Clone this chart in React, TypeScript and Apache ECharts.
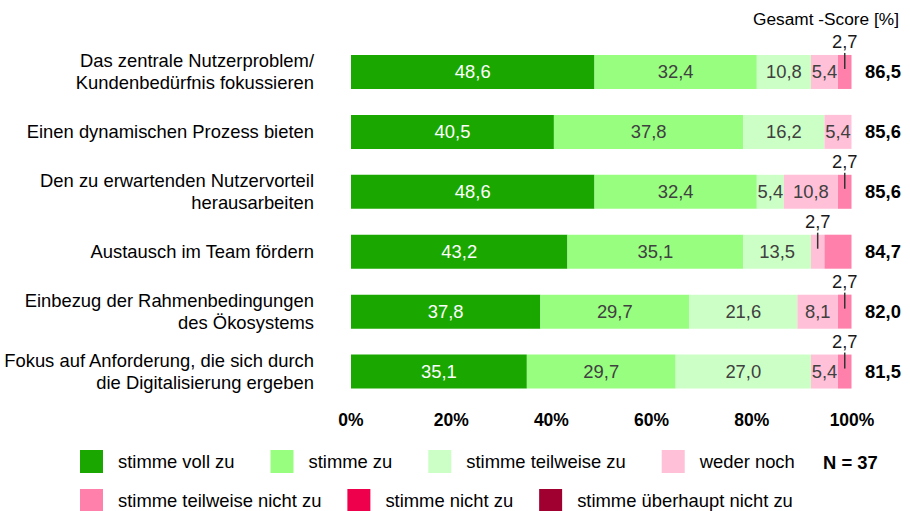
import React, { useEffect, useRef } from "react";
import * as echarts from "echarts";

const categories = [
  "Das zentrale Nutzerproblem/\nKundenbedürfnis fokussieren",
  "Einen dynamischen Prozess bieten",
  "Den zu erwartenden Nutzervorteil\nherausarbeiten",
  "Austausch im Team fördern",
  "Einbezug der Rahmenbedingungen\ndes Ökosystems",
  "Fokus auf Anforderung, die sich durch\ndie Digitalisierung ergeben",
];

const seriesNames = [
  "stimme voll zu",
  "stimme zu",
  "stimme teilweise zu",
  "weder noch",
  "stimme teilweise nicht zu",
  "stimme nicht zu",
  "stimme überhaupt nicht zu",
];

const vollZu = [48.6, 40.5, 48.6, 43.2, 37.8, 35.1];
const zu = [32.4, 37.8, 32.4, 35.1, 29.7, 29.7];
const teilweiseZu = [10.8, 16.2, 5.4, 13.5, 21.6, 27.0];
const wederNoch = [5.4, 5.4, 10.8, 2.7, 8.1, 5.4];
const teilweiseNicht = [2.7, 0, 2.7, 5.4, 2.7, 2.7];
const nichtZu = [0, 0, 0, 0, 0, 0];
const ueberhauptNicht = [0, 0, 0, 0, 0, 0];

const scores = [86.5, 85.6, 85.6, 84.7, 82.0, 81.5];
const xTicks = [0, 20, 40, 60, 80, 100];
const sampleSize = "N = 37";
const scoreTitle = "Gesamt -Score [%]";

// segments whose value label is not shown in the original: [row, seriesIndex]
const hiddenValueLabels = [[3, 4]];

const seriesValues = [vollZu, zu, teilweiseZu, wederNoch, teilweiseNicht, nichtZu, ueberhauptNicht];
const colors = ["#1aa800", "#98fe80", "#ccffc6", "#ffc0d8", "#ff80aa", "#ee004c", "#a00030"];
const labelColors = ["#ffffff", "#404040", "#404040", "#404040", "#404040", "#ffffff", "#ffffff"];

const FONT = '"Liberation Sans", Arial, sans-serif';
const FS = 18.4;
const fmt = (v: number) => v.toFixed(1).replace(".", ",");

export default function App() {
  const ref = useRef<HTMLDivElement>(null);

  useEffect(() => {
    if (!ref.current) return;
    const chart = echarts.init(ref.current, null, { renderer: "svg" });

    const barSeries = seriesValues.map((vals, si) => ({
      name: seriesNames[si],
      type: "bar",
      stack: "total",
      barWidth: 34,
      itemStyle: { color: colors[si] },
      label: {
        show: true,
        position: "inside",
        color: labelColors[si],
        fontSize: FS,
        fontFamily: FONT,
        formatter: (p: any) => {
          const v = p.value as number;
          if (!v || v < 3) return "";
          if (hiddenValueLabels.some(([r, s]) => r === p.dataIndex && s === si)) return "";
          return fmt(v);
        },
      },
      data: vals.map((v) => (v === 0 ? null : v)),
    }));

    // callouts for the small segments
    const callouts: any[] = [];
    for (let r = 0; r < categories.length; r++) {
      let cum = 0;
      for (let si = 0; si < seriesValues.length; si++) {
        const v = seriesValues[si][r];
        if (v > 0 && v < 3) callouts.push([cum + v / 2, r, fmt(v)]);
        cum += v;
      }
    }

    const calloutSeries = {
      type: "custom",
      name: "callouts",
      z: 10,
      clip: false,
      silent: true,
      data: callouts,
      renderItem: (params: any, api: any) => {
        const pt = api.coord([api.value(0), api.value(1)]);
        const cx = pt[0];
        const cy = pt[1];
        const label = callouts[params.dataIndex][2];
        return {
          type: "group",
          children: [
            {
              type: "line",
              shape: { x1: cx, y1: cy - 19, x2: cx, y2: cy - 3 },
              style: { stroke: "#333333", lineWidth: 1.5 },
            },
            {
              type: "text",
              x: cx,
              y: cy - 30,
              style: {
                text: label,
                fill: "#1a1a1a",
                fontSize: FS,
                fontFamily: FONT,
                textAlign: "center",
                textVerticalAlign: "middle",
              },
            },
          ],
        };
      },
    };

    const scoreSeries = {
      type: "custom",
      name: "scores",
      z: 10,
      clip: false,
      silent: true,
      data: scores.map((s, i) => [100, i, s]),
      renderItem: (params: any, api: any) => {
        const pt = api.coord([api.value(0), api.value(1)]);
        return {
          type: "text",
          x: pt[0] + 31,
          y: pt[1],
          style: {
            text: fmt(scores[params.dataIndex]),
            fill: "#000000",
            fontSize: FS,
            fontWeight: "bold",
            fontFamily: FONT,
            textAlign: "center",
            textVerticalAlign: "middle",
          },
        };
      },
    };

    const legendCommon = {
      itemWidth: 23,
      itemHeight: 23,
      padding: 0,
      selectedMode: false,
      icon: "rect",
      textStyle: {
        fontSize: FS,
        color: "#000000",
        fontFamily: FONT,
        padding: [0, 0, 0, 10],
      },
    };

    chart.setOption({
      animation: false,
      textStyle: { fontFamily: FONT },
      grid: { left: 351, right: 58, top: 42, bottom: 109.5, containLabel: false },
      xAxis: {
        type: "value",
        min: 0,
        max: 100,
        interval: 20,
        axisLine: { show: false },
        axisTick: { show: false },
        splitLine: { show: false },
        axisLabel: {
          formatter: (v: number) => (xTicks.includes(v) ? `${v}%` : ""),
          fontSize: 17.5,
          fontWeight: "bold",
          color: "#000000",
          fontFamily: FONT,
          margin: 9,
        },
      },
      yAxis: {
        type: "category",
        data: categories,
        inverse: true,
        axisLine: { show: false },
        axisTick: { show: false },
        splitLine: { show: false },
        axisLabel: {
          fontSize: FS,
          lineHeight: 22,
          color: "#000000",
          fontFamily: FONT,
          margin: 37,
          align: "right",
        },
      },
      legend: [
        {
          ...legendCommon,
          left: 80,
          top: 450,
          itemGap: 36,
          data: seriesNames.slice(0, 4),
        },
        {
          ...legendCommon,
          left: 80,
          top: 489,
          itemGap: 26,
          data: seriesNames.slice(4),
        },
      ],
      graphic: [
        {
          type: "text",
          right: 11,
          top: 10,
          style: {
            text: scoreTitle,
            fontSize: 17.3,
            fill: "#000000",
            fontFamily: FONT,
          },
        },
        {
          type: "text",
          left: 823,
          top: 453,
          style: {
            text: sampleSize,
            fontSize: FS,
            fontWeight: "bold",
            fill: "#000000",
            fontFamily: FONT,
          },
        },
      ],
      series: [...barSeries, calloutSeries, scoreSeries],
    });

    return () => chart.dispose();
  }, []);

  return (
    <div
      ref={ref}
      style={{ position: "fixed", left: 0, top: 0, width: 910, height: 511, background: "#ffffff" }}
    />
  );
}
